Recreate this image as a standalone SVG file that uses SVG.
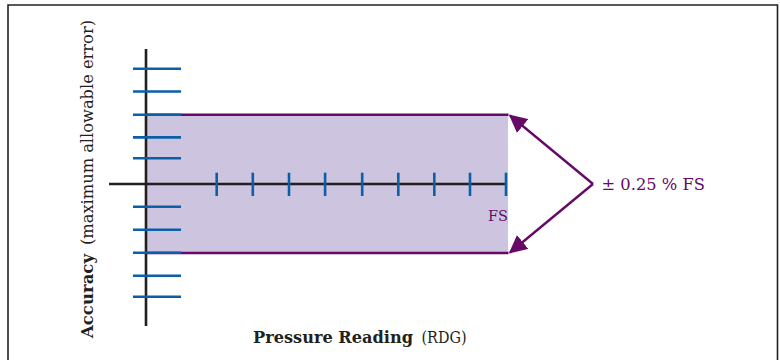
<svg xmlns="http://www.w3.org/2000/svg" width="780" height="360" viewBox="0 0 780 360">
<style>
.axis{stroke:#231f20;stroke-width:2.6;fill:none}
.tick{stroke:#0b5ea8;stroke-width:2.6;fill:none}
.band{stroke:#660a66;stroke-width:2.4;fill:none}
.arr{stroke:#660a66;stroke-width:2.4;fill:none}
.lbl{font-family:"DejaVu Serif","Liberation Serif",serif;fill:#660a66}
.reg{font-family:"DejaVu Serif","Liberation Serif",serif;font-weight:300;fill:#231f20}
.bold{font-family:"DejaVu Serif","Liberation Serif",serif;font-weight:900;fill:#231f20}
</style>
<defs>
<marker id="ah2" viewBox="0 0 12 12" refX="11" refY="6" markerWidth="7.5" markerHeight="7.5" orient="auto">
<path d="M0,0 L12,6 L0,12 Z" fill="#660a66"/>
</marker>
</defs>
<rect x="0" y="0" width="780" height="360" fill="#ffffff"/>
<path d="M8,370 V5 H777.5 V370" fill="none" stroke="#231f20" stroke-width="1.6"/>
<g id="band">
<rect x="146" y="114.7" width="362" height="138.3" fill="#cdc5df"/>
<line class="band" x1="146" y1="114.7" x2="508.5" y2="114.7"/>
<line class="band" x1="146" y1="253" x2="508.5" y2="253"/>
</g>
<g id="axes">
<line class="axis" x1="146" y1="49" x2="146" y2="326"/>
<line class="axis" x1="109" y1="184" x2="507" y2="184"/>
</g>
<g id="yticks">
<line class="tick" x1="133" y1="68.7" x2="181" y2="68.7"/>
<line class="tick" x1="133" y1="91.5" x2="181" y2="91.5"/>
<line class="tick" x1="133" y1="114.7" x2="181" y2="114.7"/>
<line class="tick" x1="133" y1="137.4" x2="181" y2="137.4"/>
<line class="tick" x1="133" y1="158.3" x2="181" y2="158.3"/>
<line class="tick" x1="133" y1="206.7" x2="181" y2="206.7"/>
<line class="tick" x1="133" y1="229.7" x2="181" y2="229.7"/>
<line class="tick" x1="133" y1="252.7" x2="181" y2="252.7"/>
<line class="tick" x1="133" y1="275.7" x2="181" y2="275.7"/>
<line class="tick" x1="133" y1="296.7" x2="181" y2="296.7"/>
</g>
<g id="xticks">
<line class="tick" x1="216.7" y1="172.7" x2="216.7" y2="196"/>
<line class="tick" x1="252.8" y1="172.7" x2="252.8" y2="196"/>
<line class="tick" x1="289" y1="172.7" x2="289" y2="196"/>
<line class="tick" x1="325.1" y1="172.7" x2="325.1" y2="196"/>
<line class="tick" x1="362.2" y1="172.7" x2="362.2" y2="196"/>
<line class="tick" x1="398.3" y1="172.7" x2="398.3" y2="196"/>
<line class="tick" x1="434.3" y1="172.7" x2="434.3" y2="196"/>
<line class="tick" x1="470" y1="172.7" x2="470" y2="196"/>
<line class="tick" x1="506" y1="172.7" x2="506" y2="196"/>
</g>
<g id="connectors">
<path class="arr" d="M593,184 L510,115.5" marker-end="url(#ah2)"/>
<path class="arr" d="M593,184 L510,252.5" marker-end="url(#ah2)"/>
</g>
<g id="labels">
<text class="lbl" x="601.5" y="190" font-size="16.5" font-weight="300" textLength="103.5" lengthAdjust="spacingAndGlyphs">± 0.25 % FS</text>
<text class="lbl" x="488" y="220.5" font-size="15" font-weight="300" textLength="20" lengthAdjust="spacingAndGlyphs">FS</text>
<text class="bold" x="253" y="343" font-size="16" textLength="160" lengthAdjust="spacingAndGlyphs">Pressure Reading</text>
<text class="reg" x="421.5" y="343" font-size="16" textLength="45" lengthAdjust="spacingAndGlyphs">(RDG)</text>
<g transform="translate(93,338) rotate(-90)">
<text class="bold" x="0" y="0" font-size="16.5" textLength="84" lengthAdjust="spacingAndGlyphs">Accuracy</text>
<text class="reg" x="93" y="0" font-size="16.5" textLength="225" lengthAdjust="spacingAndGlyphs">(maximum allowable error)</text>
</g>
</g>
</svg>
